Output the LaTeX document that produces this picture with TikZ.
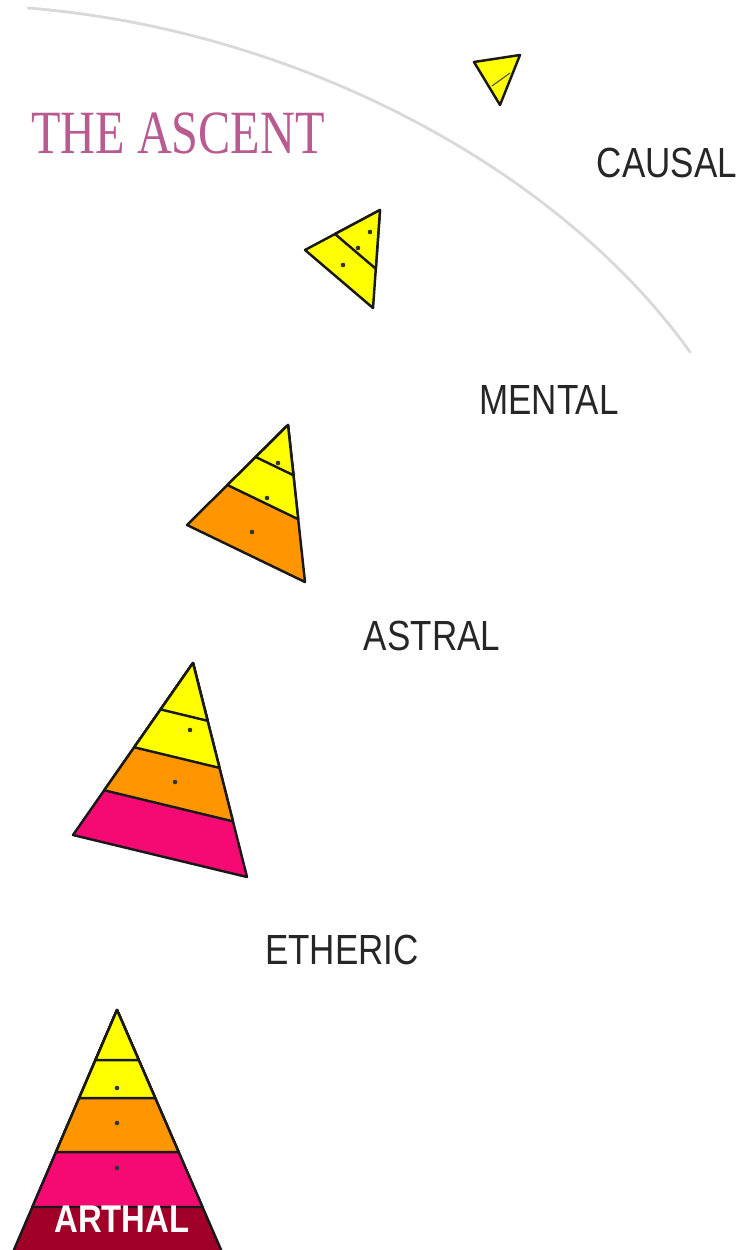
\documentclass[tikz,border=0pt]{standalone}
\usepackage{fontspec}
\setmainfont{Liberation Serif}
\setsansfont{Liberation Sans}
\usetikzlibrary{calc}
\definecolor{lyellow}{RGB}{255,255,0}
\definecolor{lorange}{RGB}{255,150,0}
\definecolor{lpink}{RGB}{245,10,115}
\definecolor{lred}{RGB}{160,0,40}
\definecolor{ascent}{RGB}{185,90,145}
\tikzset{plane/.style={font=\sffamily\fontsize{24}{24}\selectfont,xscale=0.83,inner sep=0pt,text=black!85},
	layer/.style={line width=1.4pt,draw=black!90}}
\begin{document}
\begin{tikzpicture}[x=0.02cm,y=-0.02cm,line join=round,line cap=round]
	\useasboundingbox (0,0) rectangle (750,1250);
	% the arc of the ascent
	\draw[gray!30,line width=1.6pt] (28,8) .. controls (300,30) and (560,170) .. (690,352);
	\node[font=\fontsize{35}{35}\selectfont,text=ascent,xscale=0.785,inner sep=0pt] (title) at (178,133) {THE ASCENT};
	% plane names
	\node[plane] (causal) at (667,163) {CAUSAL};
	\node[plane] (mental) at (549,400) {MENTAL};
	\node[plane] (astral) at (432,636) {ASTRAL};
	\node[plane] (etheric) at (342,950) {ETHERIC};
	% arthal
	\path (117,1010) coordinate (A0) (13,1252) coordinate (A1) (222,1252) coordinate (A2);
	\foreach \f/\c in {1/lred, 0.814/lpink, 0.587/lorange, 0.364/lyellow, 0.207/lyellow}
	\filldraw[layer,fill=\c] (A0)--($(A0)!\f!(A1)$)--($(A0)!\f!(A2)$)--cycle;
	\node[plane,font=\sffamily\bfseries\fontsize{22}{22}\selectfont,xscale=0.85/0.83,text=white!95!pink] (arthal) at (122,1219) {ARTHAL};
	% etheric
	\path (193,663) coordinate (E0) (73,835) coordinate (E1) (247,877) coordinate (E2);
	\foreach \f/\c in {1/lpink, 0.74/lorange, 0.49/lyellow, 0.27/lyellow}
	\filldraw[layer,fill=\c] (E0)--($(E0)!\f!(E1)$)--($(E0)!\f!(E2)$)--cycle;
	% astral
	\path (288,425) coordinate (S0) (187,525) coordinate (S1) (305,582) coordinate (S2);
	\foreach \f/\c in {1/lorange, 0.6/lyellow, 0.32/lyellow}
	\filldraw[layer,fill=\c] (S0)--($(S0)!\f!(S1)$)--($(S0)!\f!(S2)$)--cycle;
	% mental
	\path (380,210) coordinate (M0) (305,250) coordinate (M1) (373,308) coordinate (M2);
	\foreach \f/\c in {1/lyellow, 0.6/lyellow}
	\filldraw[layer,fill=\c] (M0)--($(M0)!\f!(M1)$)--($(M0)!\f!(M2)$)--cycle;
	% causal
	\path (520,55) coordinate (C0) (474,62) coordinate (C1) (500,105) coordinate (C2);
	\filldraw[layer,fill=lyellow] (C0)--(C1)--(C2)--cycle;
	\draw[black!70,line width=0.6pt] (492,86)--(510,73);
	% dots
	\foreach \p in {(117,1088),(117,1123),(117,1168),(190,730),(175,782),(278,463),(267,498),(252,532),(370,232),(358,248),(343,265)}
	\fill[black!80] \p circle[radius=1.3pt];
\end{tikzpicture}
\end{document}
